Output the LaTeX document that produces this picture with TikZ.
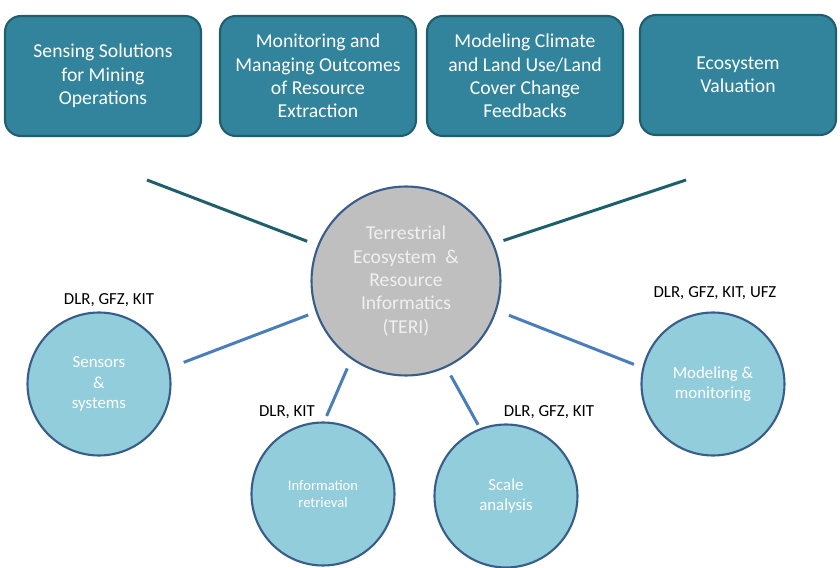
\documentclass[tikz,border=0pt]{standalone}
\usepackage{fontspec}
\setmainfont{Carlito}
\definecolor{boxteal}{HTML}{31849B}
\definecolor{boxedge}{HTML}{205E6E}
\definecolor{areablue}{HTML}{92CDDC}
\definecolor{ringblue}{HTML}{385D8A}
\definecolor{terigray}{HTML}{BFBFBF}
\definecolor{spokeblue}{HTML}{4A7EBB}
\definecolor{spoketeal}{HTML}{1F5F6A}
\tikzset{topic/.style={draw=boxedge,fill=boxteal,line width=1.2pt,rounded corners=9pt,
    minimum width=3.92cm,minimum height=2.4cm,text=white,align=center,
    font=\fontsize{11.2}{13.3}\selectfont},
  area/.style={circle,draw=ringblue,fill=areablue,line width=1.2pt,minimum size=2.86cm,
    text=white,align=center,font=\fontsize{9.6}{11.6}\selectfont},
  partners/.style={font=\fontsize{9.6}{11.6}\selectfont},
  spoke/.style={draw=spokeblue,line width=1.7pt},
  upspoke/.style={draw=spoketeal,line width=1.7pt}}

\begin{document}
\begin{tikzpicture}[x=0.02cm,y=-0.02cm]
\useasboundingbox (0,0) rectangle (840,568);
\node[topic] (mining) at (103,76) {Sensing Solutions\\for Mining\\Operations};
\node[topic] (extract) at (318,76) {Monitoring and\\Managing Outcomes\\of Resource\\Extraction};
\node[topic] (climate) at (525,76) {Modeling Climate\\and Land Use/Land\\Cover Change\\Feedbacks};
\node[topic] (valuation) at (738,75) {Ecosystem\\Valuation};
\node[circle,draw=ringblue,fill=terigray,line width=1.2pt,minimum size=3.78cm,
  text=white!94!black,align=center,font=\fontsize{11.2}{13.3}\selectfont]
  (teri) at (406,281) {Terrestrial\\Ecosystem~~\&\\Resource\\Informatics\\(TERI)};
\node[area] (sensors) at (99,384) {Sensors\\\&\\systems};
\node[area,font=\fontsize{8.3}{9.6}\selectfont] (retrieval) at (323,494) {Information\\retrieval};
\node[area] (scale) at (506,496) {Scale\\analysis};
\node[area] (modeling) at (713,384) {Modeling \&\\monitoring};
\node[partners] (sensorsby) at (109,300) {DLR, GFZ, KIT};
\node[partners] (retrievalby) at (287,412) {DLR, KIT};
\node[partners] (scaleby) at (549,412) {DLR, GFZ, KIT};
\node[partners] (modelingby) at (715,293) {DLR, GFZ, KIT, UFZ};
\coordinate (t1) at (147,180);
\coordinate (t2) at (686,180);
\draw[upspoke,shorten <=0.22cm] (teri.158) -- (t1);
\draw[upspoke,shorten <=0.2cm] (teri.23) -- (t2);
\draw[spoke,shorten <=0.16cm,shorten >=0.3cm] (teri.199) -- (sensors.13);
\draw[spoke,shorten <=0.2cm,shorten >=0.12cm] (teri.235) -- (retrieval.89);
\draw[spoke,shorten <=0.18cm,shorten >=0.08cm] (teri.295) -- (scale.111);
\draw[spoke,shorten <=0.26cm,shorten >=0.18cm] (teri.342) -- (modeling.167);
\end{tikzpicture}
\end{document}
